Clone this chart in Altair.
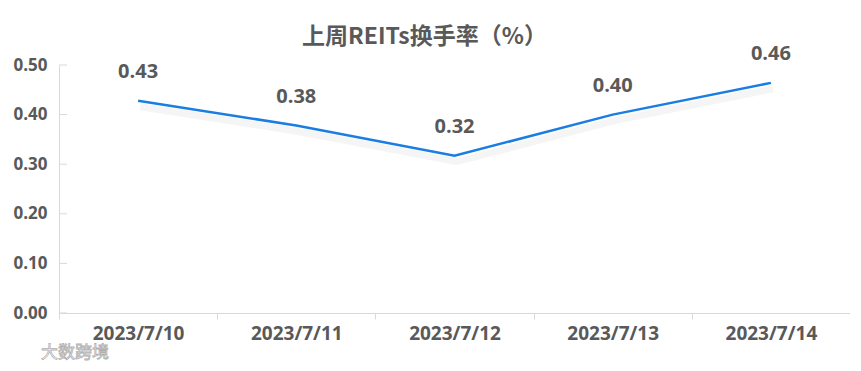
import altair as alt
import pandas as pd

dates = ["2023/7/10", "2023/7/11", "2023/7/12", "2023/7/13", "2023/7/14"]
values = [0.428, 0.378, 0.317, 0.400, 0.464]
labels = ["0.43", "0.38", "0.32", "0.40", "0.46"]
y_ticks = [0.0, 0.1, 0.2, 0.3, 0.4, 0.5]
title_text = "上周REITs换手率（%）"
watermark = "大数跨境"

df = pd.DataFrame({"date": dates, "value": values, "label": labels})
ticks_df = pd.DataFrame({"value": y_ticks})
wm_df = pd.DataFrame({"w": [watermark]})

TEXT = "#595959"
GRAY = "#d9d9d9"
BLUE = "#1a7de2"

yscale = alt.Scale(domain=[0, 0.5], nice=False, zero=True)
x_enc = alt.X(
    "date:N", sort=dates, title=None,
    scale=alt.Scale(paddingInner=0, paddingOuter=0),
    axis=alt.Axis(labelAngle=0, tickBand="extent", domainColor=GRAY, tickColor=GRAY,
                  tickSize=6, labelPadding=5, labelFont="Open Sans", labelFontSize=19,
                  labelFontWeight="bold", labelColor=TEXT, grid=False),
)
y_enc = alt.Y(
    "value:Q", title=None, scale=yscale,
    axis=alt.Axis(values=y_ticks, format=".2f", ticks=False, grid=False, domainColor=GRAY,
                  labelPadding=12, labelFont="Open Sans", labelFontSize=17,
                  labelFontWeight="bold", labelColor=TEXT),
)

base = alt.Chart(df)
line = base.mark_line(color=BLUE, strokeWidth=2.5).encode(x=x_enc, y=y_enc)
shadow = base.mark_line(color="#000000", opacity=0.04, strokeWidth=7, yOffset=6, xOffset=2).encode(
    x=x_enc, y=y_enc)
text = base.mark_text(dy=-29, font="Open Sans", fontSize=20, fontWeight="bold", color=TEXT).encode(
    x=x_enc, y=y_enc, text="label:N")
tick_rules = alt.Chart(ticks_df).mark_rule(color=GRAY).encode(
    y=y_enc, x=alt.value(0), x2=alt.value(8))
wm = alt.Chart(wm_df).mark_text(
    align="left", baseline="middle", font="Noto Sans CJK SC", fontSize=17,
    color="#ffffff", stroke="#b0b0b0", strokeWidth=0.8
).encode(text="w:N", x=alt.value(-18), y=alt.value(288))

chart = alt.layer(line, shadow, text, tick_rules, wm).properties(
    width=791, height=248,
    autosize=alt.AutoSizeParams(type="none"),
    padding={"left": 51, "top": 57, "right": 0, "bottom": 50},
    title=alt.Title(title_text, font="Noto Sans CJK SC", fontSize=23, fontWeight="bold",
                    color=TEXT, anchor="middle", dx=-30, offset=-5),
    background="white",
).configure_view(stroke=None)

chart.save("out.html", embed_options={"renderer": "svg", "actions": False})
